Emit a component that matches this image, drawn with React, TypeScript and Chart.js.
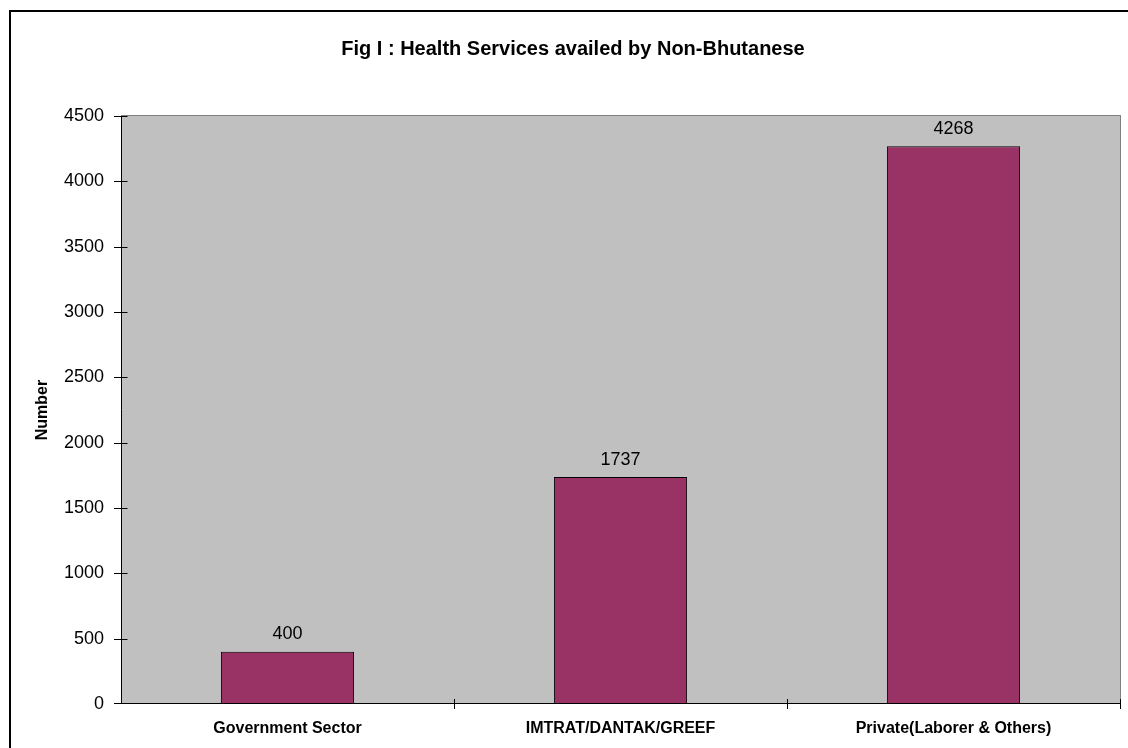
import React, { useEffect, useRef } from "react";
import { Chart, registerables } from "chart.js";

Chart.register(...registerables);

const TITLE = "Fig I : Health Services availed by Non-Bhutanese";
const Y_TITLE = "Number";
const categories = ["Government Sector", "IMTRAT/DANTAK/GREEF", "Private(Laborer & Others)"];
const values = [400, 1737, 4268];
const yTicks = [0, 500, 1000, 1500, 2000, 2500, 3000, 3500, 4000, 4500];

const FONT = '"Liberation Sans", Arial, Helvetica, sans-serif';
const BAR_COLOR = "#993366";
const PLOT_BG = "#C0C0C0";

const framePlugin = {
  id: "frame",
  beforeDraw(chart: any) {
    const { ctx, chartArea: a, width, height } = chart;
    ctx.save();
    ctx.fillStyle = "#ffffff";
    ctx.fillRect(0, 0, width, height);
    // outer chart border: only left and top edges are inside the view
    ctx.fillStyle = "#000";
    ctx.fillRect(9, 10, 2, height - 10);
    ctx.fillRect(9, 10, width - 9, 2);
    // plot area
    ctx.fillStyle = PLOT_BG;
    ctx.fillRect(a.left, a.top, a.right - a.left, a.bottom - a.top);
    ctx.fillStyle = "#808080";
    ctx.fillRect(a.left, a.top - 1, a.right - a.left + 1, 1);
    ctx.fillRect(a.right, a.top - 1, 1, a.bottom - a.top + 1);
    // title
    ctx.fillStyle = "#000";
    ctx.font = `bold 20px ${FONT}`;
    ctx.textAlign = "center";
    ctx.textBaseline = "alphabetic";
    ctx.fillText(TITLE, 573, 55);
    ctx.restore();
  },
  afterDatasetsDraw(chart: any) {
    const { ctx, chartArea: a } = chart;
    const xs = chart.scales.x;
    const ys = chart.scales.y;
    ctx.save();
    // data labels
    ctx.fillStyle = "#000";
    ctx.font = `18px ${FONT}`;
    ctx.textAlign = "center";
    ctx.textBaseline = "alphabetic";
    const meta = chart.getDatasetMeta(0);
    meta.data.forEach((el: any, i: number) => {
      ctx.fillText(String(values[i]), el.x, el.y - 12.5);
    });
    // axes
    const L = Math.round(a.left) + 0.5;
    const B = Math.round(a.bottom) - 0.5;
    ctx.strokeStyle = "#000";
    ctx.lineWidth = 1;
    ctx.beginPath();
    ctx.moveTo(L, a.top);
    ctx.lineTo(L, B);
    ctx.lineTo(a.right + 1, B);
    ctx.stroke();
    // y tick marks (cross)
    ctx.beginPath();
    yTicks.forEach((v) => {
      let py = Math.round(ys.getPixelForValue(v)) + 0.5;
      if (py > B) py = B;
      ctx.moveTo(L - 7.5, py);
      ctx.lineTo(L + 6, py);
    });
    // x tick marks at category boundaries (cross)
    const n = categories.length;
    const bounds: number[] = [];
    for (let i = 0; i < n - 1; i++) {
      bounds.push((xs.getPixelForValue(i) + xs.getPixelForValue(i + 1)) / 2);
    }
    bounds.push(a.right);
    bounds.forEach((bx) => {
      const px = Math.round(bx) + 0.5;
      ctx.moveTo(px, B - 4.5);
      ctx.lineTo(px, B + 5.5);
    });
    ctx.stroke();
    ctx.restore();
  },
  afterDraw(chart: any) {
    const { ctx, width, height } = chart;
    ctx.save();
    ctx.fillStyle = "#ffffff";
    ctx.fillRect(1122, 13, width - 1122, height - 13);
    ctx.restore();
  },
};

export default function App() {
  const ref = useRef<HTMLCanvasElement | null>(null);

  useEffect(() => {
    if (!ref.current) return;
    const chart = new Chart(ref.current, {
      type: "bar",
      data: {
        labels: categories,
        datasets: [
          {
            data: values,
            backgroundColor: BAR_COLOR,
            borderColor: "#000",
            borderWidth: 1,
            borderSkipped: false,
            barPercentage: 0.4,
            categoryPercentage: 1.0,
          },
        ],
      },
      options: {
        animation: false,
        responsive: false,
        devicePixelRatio: 1,
        layout: { padding: { left: 0, top: 116, right: 8, bottom: 0 } },
        plugins: {
          legend: { display: false },
          tooltip: { enabled: false },
          title: { display: false },
        },
        scales: {
          x: {
            grid: { display: false, drawTicks: false },
            border: { display: false },
            ticks: {
              color: "#000",
              font: { family: FONT, size: 16, weight: "bold" },
              padding: 15,
              maxRotation: 0,
              autoSkip: false,
            },
            afterFit: (s: any) => {
              s.height = 44;
            },
          },
          y: {
            min: yTicks[0],
            max: yTicks[yTicks.length - 1],
            grid: { display: false, drawTicks: false },
            border: { display: false },
            ticks: {
              color: "#000",
              font: { family: FONT, size: 18 },
              padding: 17,
              callback: (v: any) => String(v),
            },
            afterBuildTicks: (s: any) => {
              s.ticks = yTicks.map((v) => ({ value: v }));
            },
            title: {
              display: true,
              text: Y_TITLE,
              color: "#000",
              font: { family: FONT, size: 16, weight: "bold" },
              padding: { top: 33, bottom: 0 },
            },
            afterFit: (s: any) => {
              s.width = 121;
            },
          },
        },
      },
      plugins: [framePlugin],
    });
    return () => chart.destroy();
  }, []);

  return (
    <div style={{ position: "fixed", left: 0, top: 0, width: 1128, height: 748, overflow: "hidden" }}>
      <canvas ref={ref} width={1128} height={748} style={{ display: "block" }} />
    </div>
  );
}
